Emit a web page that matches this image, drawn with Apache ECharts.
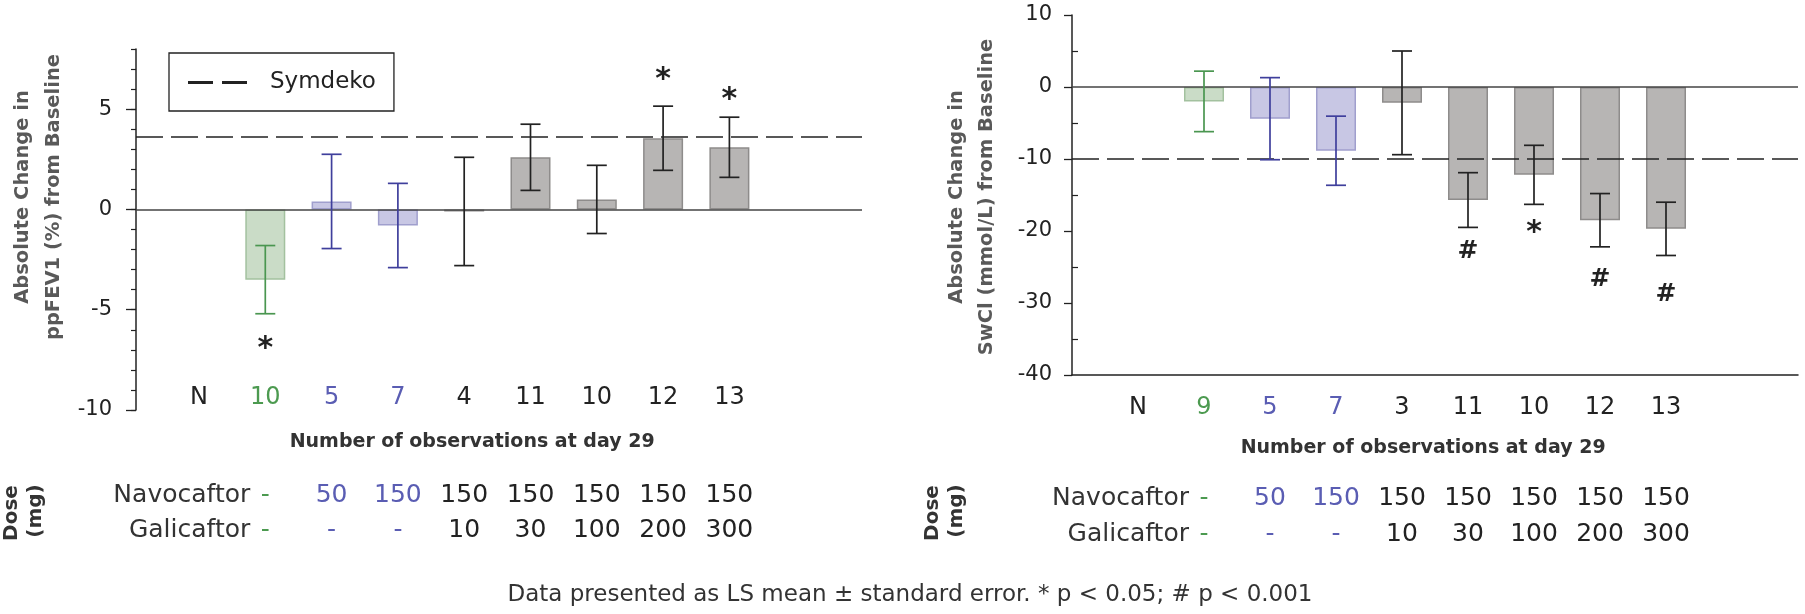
<!DOCTYPE html>
<html>
<head>
<meta charset="utf-8">
<script src="https://cdn.jsdelivr.net/npm/echarts@6/dist/echarts.min.js"></script>
<style>
html,body{margin:0;padding:0;background:#fff;}
#c{width:1805px;height:614px;}
</style>
</head>
<body>
<div id="c"></div>
<script>
// ---------------- data ----------------
const nCountsFev  = ['N','10','5','7','4','11','10','12','13'];
const nCountsSwcl = ['N','9','5','7','3','11','10','12','13'];
const groupPos = [1,2,3,4,5,6,7,8];          // category slots (0 = "N" label column)
const groups   = ['placebo','nav','nav','combo','combo','combo','combo','combo'];
const navDose  = ['-','50','150','150','150','150','150','150'];
const galDose  = ['-','-','-','10','30','100','200','300'];

const fevMean  = [-3.5, 0.4, -0.8, -0.1, 2.6, 0.5, 3.55, 3.1];
const fevSE    = [1.7, 2.35, 2.1, 2.7, 1.65, 1.7, 1.6, 1.5];
const fevSig   = ['*','','','','','','*','*'];
const fevSigY  = [-6.6, null, null, null, null, null, 6.8, 5.8];

const swclMean = [-2.0, -4.4, -8.85, -2.2, -15.7, -12.2, -18.5, -19.7];
const swclSE   = [4.2, 5.7, 4.8, 7.2, 3.8, 4.1, 3.7, 3.7];
const swclSig  = ['','','','','#','*','#','#'];
const swclSigY = [null, null, null, null, -22.9, -19.35, -26.7, -28.8];

const symdekoFev  = 3.6;
const symdekoSwcl = -10;

const fevTicks      = [-10, -5, 0, 5];
const swclTicks     = [-40, -30, -20, -10, 0, 10];
const swclMinor     = [-35, -25, -15, -5, 5];

// ---------------- styles ----------------
const palette = {
  placebo: {fill:'#cadcc7', border:'#a3c19f', err:'#4a9650', text:'#4c9a50'},
  nav:     {fill:'#c8c7e4', border:'#a09fcd', err:'#3f3f9c', text:'#5a5db3'},
  combo:   {fill:'#b7b5b4', border:'#8e8c8b', err:'#222222', text:'#222222'}
};
const FONT = 'DejaVu Sans';
const INK = '#222';

function barSeries(means, xIdx, yIdx){
  return {
    type:'bar', xAxisIndex:xIdx, yAxisIndex:yIdx, barWidth:40, z:2,
    data: groupPos.map((x,i)=>({value:[x, means[i]], itemStyle:{color:palette[groups[i]].fill, borderColor:palette[groups[i]].border, borderWidth:1.5}})),
    markLine:{silent:true, symbol:'none', label:{show:false}, z:3,
      lineStyle:{color:'#444', width:1.5, type:'solid'}, data:[{yAxis:0}]}
  };
}
function errSeries(means, se, xIdx, yIdx){
  return {
    type:'custom', xAxisIndex:xIdx, yAxisIndex:yIdx, z:5,
    encode:{x:0, y:1},
    data: groupPos.map((x,i)=>[x, means[i], se[i], i]),
    renderItem(params, api){
      const x = api.value(0), m = api.value(1), e = api.value(2), i = api.value(3);
      const t = api.coord([x, m+e]), b = api.coord([x, m-e]);
      const st = {stroke:palette[groups[i]].err, lineWidth:1.7};
      const hw = 10;
      return {type:'group', children:[
        {type:'line', shape:{x1:t[0], y1:t[1], x2:b[0], y2:b[1]}, style:st},
        {type:'line', shape:{x1:t[0]-hw, y1:t[1], x2:t[0]+hw, y2:t[1]}, style:st},
        {type:'line', shape:{x1:b[0]-hw, y1:b[1], x2:b[0]+hw, y2:b[1]}, style:st}
      ]};
    }
  };
}
function sigSeries(sig, sigY, xIdx, yIdx){
  const data = [];
  groupPos.forEach((x,i)=>{ if(sig[i]) data.push([x, sigY[i], i]); });
  return {
    type:'custom', xAxisIndex:xIdx, yAxisIndex:yIdx, z:6, silent:true,
    encode:{x:0, y:1},
    data,
    renderItem(params, api){
      const i = api.value(2);
      const p = api.coord([api.value(0), api.value(1)]);
      const s = sig[i];
      const fs = s === '*' ? 30 : 25;
      const dy = s === '*' ? fs*0.24 : 0;
      return {type:'text', x:p[0], y:p[1]+dy, style:{text:s, fill:INK, fontFamily:FONT, fontWeight:'bold', fontSize:fs, align:'center', verticalAlign:'middle'}};
    }
  };
}
function refSeries(val, xIdx, yIdx, name){
  return {
    type:'line', name:name, xAxisIndex:xIdx, yAxisIndex:yIdx, data:[], color:INK, z:4,
    markLine:{silent:true, symbol:'none', label:{show:false},
      lineStyle:{color:INK, width:1.6, type:[27,8]}, data:[{yAxis:val}]}
  };
}

const chart = echarts.init(document.getElementById('c'), null, {renderer:'canvas'});

const hiddenX = {axisLine:{show:false}, axisTick:{show:false}, axisLabel:{show:false}, splitLine:{show:false}};
const option = {
  animation:false,
  backgroundColor:'#fff',
  grid:[
    {left:136, top:49, width:726, height:361},
    {left:1072, top:15, width:726, height:360}
  ],
  xAxis:[
    Object.assign({type:'value', gridIndex:0, min:-0.95, max:10}, hiddenX),
    {type:'value', gridIndex:1, min:-1, max:10,
     axisLine:{show:true, onZero:false, lineStyle:{color:INK, width:1.5}},
     axisTick:{show:false}, axisLabel:{show:false}, splitLine:{show:false}}
  ],
  yAxis:[
    {type:'value', gridIndex:0, position:'left', min:-10, max:8, interval:1,
     axisLine:{show:true, onZero:false, lineStyle:{color:INK, width:1.5}},
     axisTick:{show:true, length:5, lineStyle:{color:INK, width:1.2}},
     axisLabel:{show:false}, splitLine:{show:false}},
    {type:'value', gridIndex:0, position:'left', min:-10, max:8, interval:5,
     axisLine:{show:false, onZero:false},
     axisTick:{show:true, length:10, customValues:fevTicks, lineStyle:{color:INK, width:1.3}},
     axisLabel:{show:true, customValues:fevTicks, margin:24, fontSize:21, fontFamily:FONT, color:INK},
     splitLine:{show:false}},
    {type:'value', gridIndex:1, position:'left', min:-40, max:10, interval:5,
     axisLine:{show:true, onZero:false, lineStyle:{color:INK, width:1.5}},
     axisTick:{show:true, inside:true, length:6, customValues:swclMinor, lineStyle:{color:INK, width:1.2}},
     axisLabel:{show:false}, splitLine:{show:false}},
    {type:'value', gridIndex:1, position:'left', min:-40, max:10, interval:10,
     axisLine:{show:false, onZero:false},
     axisTick:{show:true, length:8, customValues:swclTicks, lineStyle:{color:INK, width:1.3}},
     axisLabel:{show:true, customValues:swclTicks, margin:20, fontSize:21, fontFamily:FONT, color:INK},
     splitLine:{show:false}}
  ],
  legend:{
    data:['Symdeko'], left:169, top:53, selectedMode:false,
    borderColor:INK, borderWidth:1.3, padding:[18,18,17,19],
    itemWidth:59, itemHeight:3, icon:'path://M0,0H25V3H0Z M34,0H59V3H34Z',
    textStyle:{fontSize:23, fontFamily:FONT, color:INK, padding:[0,0,0,18]}
  },
  series:[
    barSeries(fevMean, 0, 0),
    refSeries(symdekoFev, 0, 0, 'Symdeko'),
    errSeries(fevMean, fevSE, 0, 0),
    sigSeries(fevSig, fevSigY, 0, 0),
    barSeries(swclMean, 1, 2),
    refSeries(symdekoSwcl, 1, 2, 'Symdeko '),
    errSeries(swclMean, swclSE, 1, 2),
    sigSeries(swclSig, swclSigY, 1, 2)
  ]
};
chart.setOption(option);

// ---------------- text rows (placed through the x-axes) ----------------
function T(x, y, text, st, extra){
  return Object.assign({type:'text', x:x, y:y, silent:true,
    style:Object.assign({text:text, fill:INK, fontFamily:FONT, fontSize:24, align:'center', verticalAlign:'middle'}, st||{})}, extra||{});
}
const panels = [
  {xIdx:0, counts:nCountsFev,  nY:397.5, obsX:4.12, obsY:442, navY:495.5, galY:530.5, doseX:[12,36],
   title:['Absolute Change in','ppFEV1 (%) from Baseline'], titleX:[23,54], titleY:197},
  {xIdx:1, counts:nCountsSwcl, nY:407.5, obsX:4.32, obsY:448, navY:498, galY:534, doseX:[933,957],
   title:['Absolute Change in','SwCl (mmol/L) from Baseline'], titleX:[957,987], titleY:197}
];
const graphics = [];
panels.forEach(p=>{
  const px = v => chart.convertToPixel({xAxisIndex:p.xIdx}, v);
  // N row
  p.counts.forEach((c,k)=>{
    const col = k === 0 ? INK : palette[groups[k-1]].text;
    graphics.push(T(px(k), p.nY, c, {fontSize:24, fill:col}));
  });
  graphics.push(T(px(p.obsX), p.obsY, 'Number of observations at day 29', {fontSize:19, fontWeight:'bold', fill:'#333'}));
  // dose rows
  const labelRight = px(groupPos[0]) - 15;
  graphics.push(T(labelRight, p.navY, 'Navocaftor', {fontSize:25, align:'right', fill:'#333'}));
  graphics.push(T(labelRight, p.galY, 'Galicaftor', {fontSize:25, align:'right', fill:'#333'}));
  groupPos.forEach((x,i)=>{
    const col = palette[groups[i]].text;
    graphics.push(T(px(x), p.navY, navDose[i], {fontSize:25, fill:col}));
    graphics.push(T(px(x), p.galY, galDose[i], {fontSize:25, fill:col}));
  });
  graphics.push(T(p.doseX[0], 513, 'Dose', {fontSize:20, fontWeight:'bold', fill:'#333'}, {rotation:Math.PI/2}));
  graphics.push(T(p.doseX[1], 511, '(mg)', {fontSize:20, fontWeight:'bold', fill:'#333'}, {rotation:Math.PI/2}));
  // y-axis titles
  p.title.forEach((t,j)=>{
    graphics.push(T(p.titleX[j], p.titleY, t, {fontSize:19.5, fontWeight:'bold', fill:'#595959'}, {rotation:Math.PI/2}));
  });
});
graphics.push(T(910, 595, 'Data presented as LS mean \u00b1 standard error. * p < 0.05; # p < 0.001', {fontSize:23, fill:'#333'}));
chart.setOption({graphic:graphics});
</script>
</body>
</html>
